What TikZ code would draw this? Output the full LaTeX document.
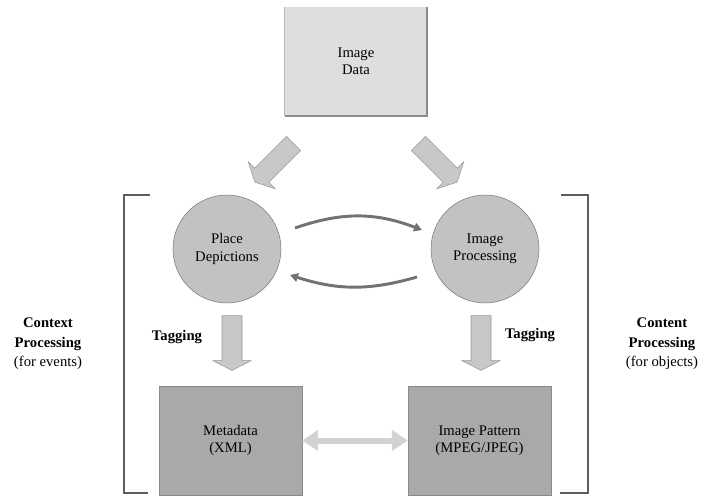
\documentclass[tikz,border=0pt]{standalone}
\usepackage{fontspec}
\setmainfont{Liberation Serif}
\usepackage{tikz}
\usetikzlibrary{shapes.arrows,arrows.meta}

\definecolor{datafill}{HTML}{DEDEDE}
\definecolor{datashade}{HTML}{8C8C8C}
\definecolor{circfill}{HTML}{C2C2C2}
\definecolor{circline}{HTML}{7A7A7A}
\definecolor{outfill}{HTML}{A9A9A9}
\definecolor{outline}{HTML}{8A8A8A}
\definecolor{blkfill}{HTML}{C8C8C8}
\definecolor{blkline}{HTML}{969696}
\definecolor{cycline}{HTML}{727272}
\definecolor{brkline}{HTML}{5E5E5E}
\definecolor{linkline}{HTML}{D2D2D2}

\begin{document}
\begin{tikzpicture}[x=0.75pt,y=-0.75pt,
  every node/.style={font=\fontsize{11}{13}\selectfont},
  databox/.style={rectangle,fill=datafill,minimum width=106.5pt,minimum height=81.75pt,align=center,inner sep=0pt},
  procnode/.style={circle,draw=circline,fill=circfill,minimum size=81pt,align=center,inner sep=0pt},
  outbox/.style={rectangle,draw=outline,fill=outfill,minimum width=107pt,minimum height=81.75pt,align=center,inner sep=0pt},
  blkarrow/.style={single arrow,draw=blkline,fill=blkfill,inner xsep=0pt,inner ysep=7.3pt,single arrow head extend=6.8pt,single arrow tip angle=126,minimum height=41pt},
  cycarrow/.style={draw=cycline,line width=2.2pt,-{Triangle[length=6pt,width=6.5pt]}},
  linkarrow/.style={draw=linkline,line width=4.5pt,{Triangle[length=12pt,width=15pt]}-{Triangle[length=12pt,width=15pt]}},
  sidelabel/.style={align=center,font=\fontsize{11}{14.5}\selectfont},
  taglabel/.style={font=\fontsize{11}{13}\selectfont\bfseries}]
\useasboundingbox (0,0) rectangle (701,496);

% source
\node[databox] (idata) at (356,61.5) {Image\\Data};
\draw[datashade!60,line width=0.5pt] (idata.north west) -- (idata.south west);
\draw[datashade,line width=1.6pt] (idata.north east) -- (idata.south east) -- (idata.south west);

% processing
\node[procnode] (pd) at (227,249) {Place\\Depictions};
\node[procnode] (ip) at (485,249) {Image\\Processing};

% block arrows
\node[blkarrow,rotate=225] (in1) at (276,161) {};
\node[blkarrow,rotate=-45] (in2) at (436,161) {};
\node[blkarrow,rotate=-90] (tag1) at (232,340.5) {};
\node[blkarrow,rotate=-90] (tag2) at (481,340.5) {};

\draw[cycarrow] ([shift={(68,-21)}]pd.center) to[bend left=20] ([shift={(-63,-19)}]ip.center);
\draw[cycarrow] ([shift={(-68,28)}]ip.center) to[bend left=17] ([shift={(63,26)}]pd.center);

% outputs
\node[outbox] (meta) at (230.5,440.5) {Metadata\\(XML)};
\node[outbox] (pattern) at (479.5,440.5) {Image Pattern\\(MPEG/JPEG)};
\draw[linkarrow] (meta) -- (pattern);

% labels
\node[taglabel] (tagl) at (177,337) {Tagging};
\node[taglabel] (tagr) at (530,335) {Tagging};
\node[sidelabel] (ctx) at (48,344) {\textbf{Context}\\\textbf{Processing}\\(for events)};
\node[sidelabel] (cnt) at (662,344) {\textbf{Content}\\\textbf{Processing}\\(for objects)};

% brackets
\draw[brkline,line width=2.2pt] (124,194.5) -- (124,494);
\draw[brkline,line width=1.3pt] (123,195) -- (150,195) (123,493) -- (148,493);
\draw[brkline,line width=2.2pt] (588,194.5) -- (588,494);
\draw[brkline,line width=1.3pt] (561,195) -- (589,195) (560,493) -- (589,493);
\end{tikzpicture}
\end{document}
